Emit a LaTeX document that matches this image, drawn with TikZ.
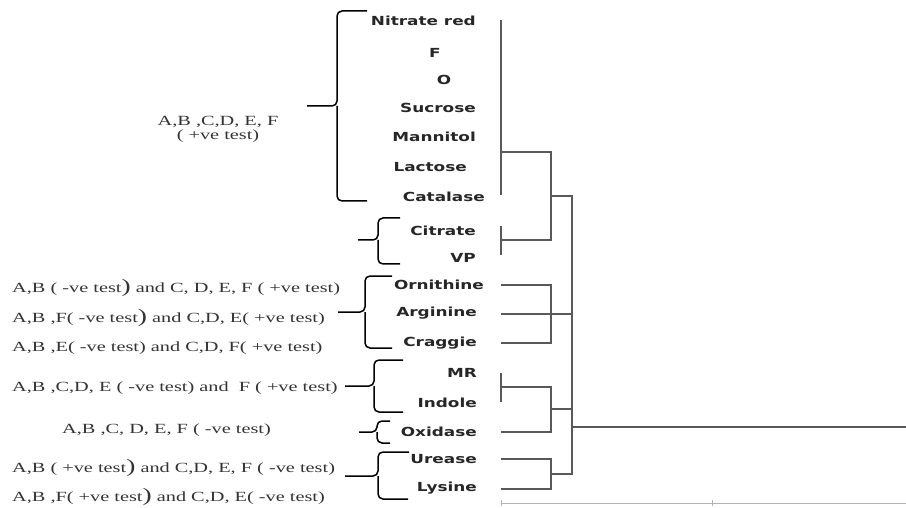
\documentclass[tikz,border=0pt]{standalone}
\usepackage{fontspec}
\setmainfont{Liberation Serif}[FakeStretch=1.45]
\newfontfamily\testfont{DejaVu Sans}[FakeStretch=1.35]
\newcommand{\tallpar}{{\fontsize{19}{19}\selectfont )}}
\usepackage{tikz}

\begin{document}
\begin{tikzpicture}[x=1pt,y=-1pt,
    leaf/.style={anchor=east, inner sep=0pt, text=black!85,
        font=\testfont\bfseries\fontsize{12.5}{14}\selectfont},
    cond/.style={anchor=west, inner sep=0pt, text=black!80,
        font=\fontsize{14}{14}\selectfont},
    brc/.style={black, line width=1.5pt, rounded corners=5pt},
    tree/.style={black!65, line width=1.1pt}]
            \useasboundingbox (0,0) rectangle (906,508);
            % test names
            \node[leaf] (nitrate) at (476,21) {Nitrate red};
            \node[leaf, anchor=center] (fTest) at (435,53) {F};
            \node[leaf, anchor=center] (oTest) at (444,80) {O};
            \node[leaf] (sucrose) at (476,108) {Sucrose};
            \node[leaf] (mannitol) at (476,137) {Mannitol};
            \node[leaf] (lactose) at (467,167) {Lactose};
            \node[leaf] (catalase) at (485,197) {Catalase};
            \node[leaf] (citrate) at (476,231) {Citrate};
            \node[leaf] (vp) at (476,258) {VP};
            \node[leaf] (ornithine) at (484,285) {Ornithine};
            \node[leaf] (arginine) at (477,313) {Arginine};
            \node[leaf] (craggie) at (477,343) {Craggie};
            \node[leaf] (mr) at (477,373) {MR};
            \node[leaf] (indole) at (477,403) {Indole};
            \node[leaf] (oxidase) at (477,432) {Oxidase};
            \node[leaf] (urease) at (477,459) {Urease};
            \node[leaf] (lysine) at (477,488) {Lysine};
            % strain results
            \node[cond, anchor=center, align=center] (allPos) at (218,129) {A,B ,C,D, E, F\\( +ve test)};
            \node[cond] (condA) at (12,288) {A,B ( -ve test\tallpar\ and C, D, E, F ( +ve test)};
            \node[cond] (condB) at (12,318) {A,B ,F( -ve test\tallpar\ and C,D, E( +ve test)};
            \node[cond] (condC) at (12,348) {A,B ,E( -ve test) and C,D, F( +ve test)};
            \node[cond] (condD) at (12,388) {A,B ,C,D, E ( -ve test) and\ \ F ( +ve test)};
            \node[cond] (allNeg) at (62,430) {A,B ,C, D, E, F ( -ve test)};
            \node[cond] (condE) at (12,468) {A,B ( +ve test\tallpar\ and C,D, E, F ( -ve test)};
            \node[cond] (condF) at (12,497) {A,B ,F( +ve test\tallpar\ and C,D, E( -ve test)};
            % braces
            \draw[brc] (367,11)--(337,11)--(337,106)--(307,106) (337,106)--(337,201)--(367,201);
            \draw[brc] (400,218)--(378,218)--(378,240)--(358,240) (378,240)--(378,264)--(400,264);
            \draw[brc] (392,276)--(365,276)--(365,312)--(338,312) (365,312)--(365,348)--(392,348);
            \draw[brc] (403,360)--(374,360)--(374,386)--(345,386) (374,386)--(374,412)--(403,412);
            \draw[brc] (390,421)--(377,421)--(377,432)--(359,432) (377,432)--(377,443)--(390,443);
            \draw[brc] (409,452)--(378,452)--(378,476)--(345,476) (378,476)--(378,499)--(408,499);
            % dendrogram
            \coordinate (jA) at (551,196);
            \coordinate (jB) at (551,409);
            \coordinate (jC) at (551,474);
            \coordinate (root) at (572,427);
            \draw[tree] (501,20)--(501,195);
            \draw[tree] (501,226)--(501,255);
            \draw[tree] (501,152)--(551,152)--(551,240)--(501,240);
            \draw[tree] (jA)--(572,196)--(572,474)--(jC);
            \draw[tree] (501,285)--(551,285)--(551,343)--(501,343);
            \draw[tree] (501,314)--(572,314);
            \draw[tree] (501,373)--(501,402);
            \draw[tree] (501,387)--(551,387)--(551,432)--(501,432);
            \draw[tree] (jB)--(572,409);
            \draw[tree] (501,459)--(551,459)--(551,489)--(501,489);
            \draw[tree] (root)--(906,427);
            % axis
            \draw[black!30, line width=1pt] (501,503)--(906,503);
            \draw[black!30, line width=1pt] (501,500)--(501,506) (712,500)--(712,506);
        \end{tikzpicture}
\end{document}
